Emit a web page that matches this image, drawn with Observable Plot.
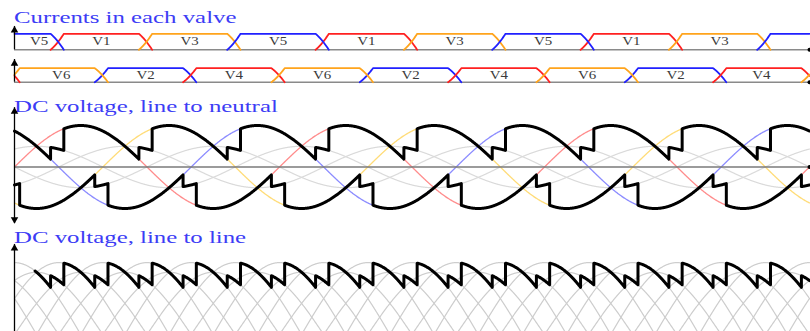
<!DOCTYPE html>
<html>
<head>
<meta charset="utf-8">
<script src="https://cdn.jsdelivr.net/npm/d3@7"></script>
<script src="https://cdn.jsdelivr.net/npm/@observablehq/plot@0.6"></script>
<style>
  body { margin: 0; background: #fff; }
  #chart { position: relative; width: 810px; height: 331px; overflow: hidden; background: #fff; }
  .title {
    position: absolute; left: 14px; margin: 0;
    font-family: "Liberation Serif", "DejaVu Serif", serif;
    font-size: 16px; line-height: 1; color: #3c3cf5; white-space: nowrap;
    transform: scaleX(1.55); transform-origin: 0 0;
  }
</style>
</head>
<body>
<div id="chart"></div>
<script>
// Six-pulse bridge converter: valve currents and DC-side voltages,
// with firing delay and commutation overlap, over three supply cycles.

const titles = ["Currents in each valve", "DC voltage, line to neutral", "DC voltage, line to line"];

// Supply angle shown (degrees)
const thetaRange = [0, 1080];

// Phase voltages (per unit), phase shift in degrees and colours
const phaseNames = ["a", "b", "c"];
const phaseShift = [0, -120, 120];
const phaseLineColor = ["#ff8c8c", "#ffdc78", "#8c8cff"];
const phaseCurrentColor = ["#ff2020", "#ffa41c", "#2020ff"];

// Valves in firing order: phase they connect, and which DC pole
const valveNames = ["V1", "V2", "V3", "V4", "V5", "V6"];
const valvePhase = [0, 2, 1, 0, 2, 1];
const valveSide = ["upper", "lower", "upper", "lower", "upper", "lower"];

// Firing delay (alpha) and overlap angle (mu), degrees
const firingDelay = 19;
const overlapAngle = 18;

// Where the line-to-line trace begins (degrees)
const vdStart = 28;

// Vertical axis extents (per unit) for each panel
const rowAxisTop = [1.46, 1.62];
const neutralAxis = [-1.36, 1.43];
const lineAxis = [-0.5, 2.17];

// ---------------------------------------------------------------------------
const rad = Math.PI / 180;
const phaseV = (j, th) => Math.sin((th + phaseShift[j]) * rad);
const cosA = Math.cos(firingDelay * rad), cosAM = Math.cos((firingDelay + overlapAngle) * rad);
const rise = u => (cosA - Math.cos((firingDelay + u) * rad)) / (cosA - cosAM);

function steps(a, b, step) {
  const out = [];
  for (let t = a; t < b; t += step) out.push(t);
  out.push(b);
  return out;
}

const firstOn = k => 30 + firingDelay + 60 * k;

function currentFrom(on, th) {
  const u = th - on;
  if (u <= 0) return 0;
  if (u < overlapAngle) return rise(u);
  if (u <= 120) return 1;
  if (u < 120 + overlapAngle) return 1 - rise(u - 120);
  return 0;
}
function conducting(k, th) {
  const u = (((th - firstOn(k)) % 360) + 360) % 360;
  return u > 0 && u < 120 + overlapAngle;
}
function poleVoltage(side, th) {
  let s = 0, n = 0;
  valveNames.forEach((_, k) => {
    if (valveSide[k] === side && conducting(k, th)) { s += phaseV(valvePhase[k], th); n++; }
  });
  return s / n;
}

// Valve current traces, one series per conduction interval
const currents = [];
const valveLabels = [];
valveNames.forEach((name, k) => {
  for (let n = -1; n <= 3; n++) {
    const on = firstOn(k) + 360 * n, off = on + 120 + overlapAngle;
    const t0 = Math.max(on, thetaRange[0]), t1 = Math.min(off, thetaRange[1]);
    if (t1 <= t0) continue;
    for (const th of steps(t0, t1, 0.5))
      currents.push({theta: th, i: currentFrom(on, th), id: name + "_" + n, side: valveSide[k], phase: phaseNames[valvePhase[k]]});
    const mid = (on + off) / 2;
    if (mid > -10 && mid < 1030) valveLabels.push({theta: (t0 + t1) / 2, text: name, side: valveSide[k]});
  }
});

// Sample grid, refined at every switching instant
const switching = [];
valveNames.forEach((_, k) => {
  for (let n = -1; n <= 3; n++) {
    const on = firstOn(k) + 360 * n;
    switching.push(on, on + overlapAngle);
  }
});
const grid = steps(thetaRange[0], thetaRange[1], 0.5);
const fine = grid.concat(switching.flatMap(t => [t - 1e-4, t + 1e-4]))
  .filter(t => t >= thetaRange[0] && t <= thetaRange[1]).sort((a, b) => a - b);

// Line to neutral
const phaseCurves = phaseNames.flatMap((p, j) => grid.map(th => ({theta: th, v: phaseV(j, th), phase: p})));
const halfCurves = phaseNames.flatMap((p, j) => grid.map(th => ({theta: th, v: -0.5 * phaseV(j, th), phase: p})));
const upperPole = fine.map(th => ({theta: th, v: poleVoltage("upper", th)}));
const lowerPole = fine.map(th => ({theta: th, v: poleVoltage("lower", th)}));

// Line to line
const pairs = [[0, 1], [1, 2], [2, 0]];
const lineCurves = [];
for (const sign of [1, -1]) {
  pairs.forEach(([i, j], q) => grid.forEach(th => lineCurves.push({theta: th, v: sign * (phaseV(i, th) - phaseV(j, th)), id: "ll" + q + sign})));
  phaseNames.forEach((p, j) => grid.forEach(th => lineCurves.push({theta: th, v: sign * 1.5 * phaseV(j, th), id: "cm" + j + sign})));
}
const dcVoltage = fine.filter(th => th >= vdStart).map(th => ({theta: th, v: poleVoltage("upper", th) - poleVoltage("lower", th)}));

// ---------------------------------------------------------------------------
const container = document.getElementById("chart");

function panel({top, height, yDomain, yRange, marks}) {
  const svg = Plot.plot({
    width: 810, height,
    marginLeft: 14, marginRight: 1, marginTop: 0, marginBottom: 0,
    x: {domain: thetaRange, axis: null},
    y: {domain: yDomain, range: yRange, axis: null},
    color: {domain: phaseNames, range: phaseLineColor},
    style: {position: "absolute", left: "0px", top: top + "px", background: "transparent", overflow: "visible"},
    marks
  });
  container.append(svg);
  return svg;
}

function axisArrow(from, to) {
  const d = [{theta: 0, from, to}];
  return [
    Plot.ruleX(d, {x: "theta", y1: "from", y2: "to", stroke: "black", strokeWidth: 1.3}),
    Plot.dot(d, {x: "theta", y: "to", symbol: "triangle", r: 2.8, fill: "black", stroke: null, dy: 4})
  ];
}
const endDot = [{theta: thetaRange[1], v: 0}];

function valveRow(side, top, height, base, peak, tip) {
  const svg = panel({
    top, height, yDomain: [0, 1], yRange: [base, peak],
    marks: [
      Plot.ruleY([0], {stroke: "#8a8a8a", strokeWidth: 1.6}),
      Plot.line(currents.filter(d => d.side === side), {
        x: "theta", y: "i", z: "id",
        stroke: d => phaseCurrentColor[phaseNames.indexOf(d.phase)], strokeWidth: 1.8
      }),
      Plot.text(valveLabels.filter(d => d.side === side), {
        x: "theta", y: () => 0.5, text: "text",
        fontFamily: "Liberation Serif", fontSize: 11.5, fill: "#3a3a3a"
      }),
      ...axisArrow(0, tip),
      Plot.dot(endDot, {x: "theta", y: "v", r: 2, fill: "black", stroke: null})
    ]
  });
  svg.querySelectorAll("text").forEach(t => {
    const w = t.getComputedTextLength();
    t.setAttribute("textLength", (w * 1.3).toFixed(2));
    t.setAttribute("lengthAdjust", "spacingAndGlyphs");
  });
}

titles.forEach((text, n) => {
  const d = document.createElement("div");
  d.className = "title";
  d.textContent = text;
  d.style.top = [10, 98.5, 230][n] + "px";
  container.append(d);
});

valveRow("upper", 20, 36, 29.3, 13.3, rowAxisTop[0]);
valveRow("lower", 56, 34, 25.7, 11.7, rowAxisTop[1]);

// Line-to-neutral panel: phase voltages, half voltages and the two pole voltages
panel({
  top: 100, height: 130, yDomain: [-1, 1], yRange: [108, 25],
  marks: [
    Plot.line(halfCurves, {x: "theta", y: "v", z: "phase", stroke: "#dadada", strokeWidth: 1.2}),
    Plot.line(phaseCurves, {x: "theta", y: "v", z: "phase", stroke: "phase", strokeWidth: 1.3}),
    Plot.ruleY([0], {stroke: "#7a7a7a", strokeWidth: 1.3}),
    Plot.line(upperPole, {x: "theta", y: "v", stroke: "black", strokeWidth: 3}),
    Plot.line(lowerPole, {x: "theta", y: "v", stroke: "black", strokeWidth: 3}),
    Plot.ruleX([{theta: 0, from: neutralAxis[0], to: neutralAxis[1]}], {x: "theta", y1: "from", y2: "to", stroke: "black", strokeWidth: 1.3}),
    Plot.dot([{theta: 0, v: neutralAxis[1]}], {x: "theta", y: "v", symbol: "triangle", r: 2.8, fill: "black", stroke: null, dy: 4}),
    Plot.dot([{theta: 0, v: neutralAxis[0]}], {x: "theta", y: "v", symbol: "triangle", r: 2.8, fill: "black", stroke: null, rotate: 180, dy: -4}),
    Plot.dot(endDot, {x: "theta", y: "v", r: 2, fill: "black", stroke: null})
  ]
});

// Line-to-line panel: line voltages, commutation voltages and the DC voltage
panel({
  top: 240, height: 100, yDomain: [0, 1], yRange: [94, 52.5],
  marks: [
    Plot.line(lineCurves, {x: "theta", y: "v", z: "id", stroke: "#cdcdcd", strokeWidth: 1.2}),
    Plot.line(dcVoltage, {x: "theta", y: "v", stroke: "black", strokeWidth: 3}),
    ...axisArrow(lineAxis[0], lineAxis[1])
  ]
});
</script>
</body>
</html>
